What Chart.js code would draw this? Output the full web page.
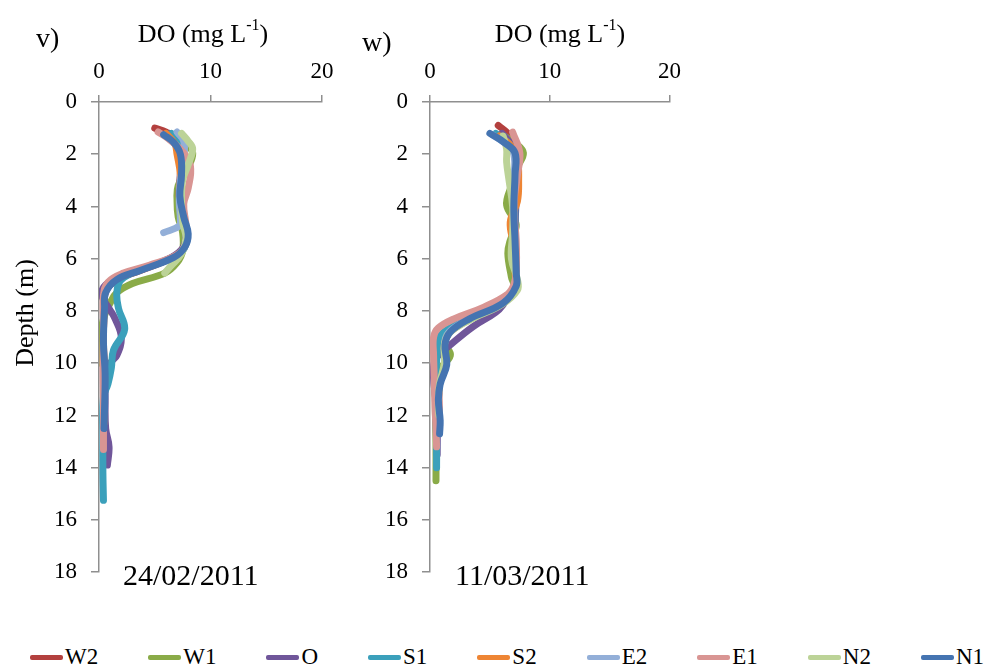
<!DOCTYPE html>
<html>
<head>
<meta charset="utf-8">
<script src="https://cdn.jsdelivr.net/npm/chart.js@4"></script>
<style>
  body { margin: 0; background: #fff; width: 1006px; height: 672px; position: relative; overflow: hidden; }
  canvas { position: absolute; top: 0; }
  #legend { position: absolute; left: 30px; top: 644px; display: flex; align-items: center; gap: 50px;
            font-family: 'Liberation Serif', 'Times New Roman', serif; font-size: 23px; color: #000; }
  #legend .item { display: flex; align-items: center; }
  #legend .swatch { display: inline-block; width: 33px; height: 5px; border-radius: 2px; margin-right: 2px; }
</style>
</head>
<body>
<canvas id="chartFeb" width="345" height="600" style="left:0"></canvas>
<canvas id="chartMar" width="345" height="600" style="left:345px"></canvas>
<div id="legend"></div>
<script>
const SERIF = "'Liberation Serif', 'Times New Roman', serif"

const stations = ['W2', 'W1', 'O', 'S1', 'S2', 'E2', 'E1', 'N2', 'N1']
const colors = ['#b3403e', '#8aab48', '#70569a', '#3ba0bb', '#ee8534', '#93afd8', '#d99593', '#bcd397', '#4574b1']
const doTicks = [0, 10, 20]
const depthTicks = [0, 2, 4, 6, 8, 10, 12, 14, 16, 18]

// profiles as [DO mg/L, depth m], 24/02/2011
const feb_W2 = [[5.0,1.0],[6.0,1.15],[6.9,1.5],[7.3,2.0],[7.3,2.8],[7.2,3.6],[7.5,4.4],[7.9,5.05],[7.6,5.6],[6.6,5.95],[3.7,6.45],[1.6,6.8],[0.6,7.25],[0.45,8.0],[0.4,9.3],[0.5,10.5],[0.45,11.8],[0.45,12.4]]
const feb_W1 = [[6.8,1.3],[7.8,1.6],[8.4,1.95],[8.0,2.5],[7.1,3.2],[7.0,3.8],[7.1,4.4],[7.5,5.0],[7.5,5.7],[7.0,6.15],[5.9,6.55],[3.0,6.95],[1.6,7.3],[1.0,7.7],[0.4,8.3],[0.1,9.2],[0.2,10.0]]
const feb_O = [[6.3,1.2],[7.0,1.5],[7.3,2.0],[7.3,2.8],[7.2,3.6],[7.5,4.4],[7.8,5.1],[7.5,5.6],[6.5,5.95],[4.2,6.35],[2.0,6.7],[0.6,7.0],[0.25,7.4],[0.9,7.9],[1.45,8.3],[2.0,9.0],[1.6,9.7],[1.0,10.0],[0.6,10.6],[0.55,11.5],[0.6,12.5],[0.9,13.2],[0.75,13.9]]
const feb_S1 = [[6.5,1.2],[7.2,1.6],[7.4,2.2],[7.3,3.0],[7.3,3.8],[7.7,4.6],[7.9,5.2],[7.5,5.7],[6.4,6.0],[3.8,6.4],[2.0,6.8],[1.6,7.3],[1.75,7.9],[2.3,8.7],[1.3,9.5],[1.1,10.2],[0.8,10.8],[0.4,11.3],[0.35,12.9],[0.35,14.2],[0.4,15.25]]
const feb_S2 = [[6.0,1.2],[6.8,1.6],[7.0,2.0],[7.3,2.8],[7.2,3.6],[7.5,4.4],[7.9,5.0],[7.6,5.6],[6.6,5.95],[3.6,6.45],[1.5,6.8],[0.55,7.3],[0.45,8.0],[0.4,9.2],[0.5,10.5],[0.45,11.8],[0.45,12.3]]
const feb_E2 = [[7.0,1.15],[7.6,1.5],[7.6,2.2],[7.3,3.0],[7.2,3.8],[7.3,4.5],[7.2,4.75],[5.8,5.0]]
const feb_E1 = [[5.3,1.15],[6.2,1.4],[7.5,1.9],[8.2,2.45],[8.0,3.3],[7.6,3.9],[7.8,4.7],[7.8,5.4],[7.0,5.85],[4.5,6.25],[2.2,6.55],[0.8,6.9],[0.4,7.4],[0.4,8.5],[0.35,10.0],[0.4,11.5],[0.4,12.5],[0.4,13.3]]
const feb_N2 = [[7.4,1.2],[8.0,1.5],[8.4,1.8],[8.0,2.4],[7.5,3.0],[7.4,3.8],[7.5,4.6],[7.8,5.2],[7.4,5.8],[6.4,6.3],[5.9,6.55]]
const feb_N1 = [[5.8,1.25],[6.7,1.55],[7.3,2.0],[7.4,2.8],[7.25,3.6],[7.6,4.4],[8.0,5.05],[7.7,5.55],[6.7,5.95],[3.7,6.45],[1.6,6.8],[0.6,7.3],[0.5,7.9],[0.4,9.2],[0.55,10.4],[0.5,11.7],[0.45,12.5]]

// profiles as [DO mg/L, depth m], 11/03/2011
const mar_W2 = [[5.7,0.9],[6.5,1.2],[7.0,1.6],[7.2,2.2],[7.1,3.5],[7.1,5.0],[7.2,6.5],[7.1,7.1],[6.0,7.7],[3.3,8.3],[1.6,8.8],[1.2,9.3],[1.3,10.0],[0.8,10.8],[0.75,11.6],[0.8,12.4]]
const mar_W1 = [[6.2,1.3],[7.2,1.6],[7.8,1.95],[7.3,2.5],[6.8,3.2],[6.4,3.95],[7.2,4.7],[6.7,5.3],[6.5,5.8],[6.8,6.7],[7.0,7.1],[5.9,7.7],[3.2,8.3],[1.5,8.8],[1.2,9.2],[1.7,9.7],[0.55,10.4],[0.45,11.5],[0.5,13.0],[0.5,14.5]]
const mar_O = [[6.0,1.2],[6.9,1.7],[7.2,2.2],[7.2,3.5],[7.1,5.0],[7.2,6.5],[7.1,7.1],[6.2,7.7],[5.5,8.05],[3.6,8.6],[1.7,9.3],[0.5,9.8],[0.3,10.1],[0.3,10.6],[0.5,11.5],[0.6,12.5],[0.6,13.5]]
const mar_S1 = [[5.5,1.2],[6.8,1.7],[7.2,2.2],[7.1,3.5],[7.1,5.0],[7.2,6.5],[7.1,7.1],[6.0,7.6],[3.5,8.2],[1.5,8.7],[0.8,9.0],[0.6,9.6],[0.5,10.5],[0.5,12.0],[0.55,13.0],[0.55,14.0]]
const mar_S2 = [[5.8,1.3],[6.8,1.7],[7.3,2.2],[7.4,3.0],[7.3,3.8],[6.7,4.6],[7.0,5.5],[7.1,6.5],[7.1,7.1],[6.0,7.7],[3.4,8.3],[1.7,8.8],[1.2,9.3],[1.3,10.0],[0.8,10.8],[0.7,11.5],[0.75,12.3]]
const mar_E2 = [[5.2,1.25],[6.3,1.6],[7.0,2.0],[7.0,3.0],[7.0,4.1],[7.1,5.3],[7.2,6.5],[7.1,7.1],[6.0,7.7],[3.3,8.3],[1.6,8.8],[1.2,9.3],[1.3,10.0],[0.8,10.8],[0.7,11.5],[0.8,12.2]]
const mar_E1 = [[6.9,1.15],[7.5,1.95],[7.3,2.8],[7.0,4.0],[7.2,5.3],[7.2,6.5],[7.0,7.0],[6.5,7.35],[4.5,7.85],[2.0,8.3],[0.7,8.65],[0.3,9.0],[0.3,9.7],[0.35,10.5],[0.42,11.7],[0.5,12.5],[0.55,13.2]]
const mar_N2 = [[6.1,1.3],[6.4,1.8],[6.4,2.3],[6.6,3.0],[6.9,4.0],[6.9,5.0],[6.8,6.0],[7.3,6.8],[7.3,7.2],[6.0,7.75],[3.3,8.35],[1.6,8.85],[1.2,9.3],[1.2,10.0],[0.8,10.8],[0.7,11.5],[0.75,12.0]]
const mar_N1 = [[5.0,1.2],[6.2,1.55],[7.1,1.95],[7.1,2.8],[7.0,4.05],[7.1,5.3],[7.2,6.55],[7.2,7.05],[6.1,7.7],[3.3,8.3],[1.7,8.8],[1.25,9.3],[1.4,10.05],[0.85,10.8],[0.7,11.4],[0.85,12.2],[0.8,12.7]]

const febProfiles = [feb_W2, feb_W1, feb_O, feb_S1, feb_S2, feb_E2, feb_E1, feb_N2, feb_N1]
const marProfiles = [mar_W2, mar_W1, mar_O, mar_S1, mar_S2, mar_E2, mar_E1, mar_N2, mar_N1]

// panel letter, axis titles and the sampling date
const panelText = {
  id: 'panelText',
  afterDraw(chart, args, opts) {
    const ctx = chart.ctx
    ctx.save()
    ctx.fillStyle = '#000'
    ctx.textBaseline = 'alphabetic'
    ctx.textAlign = 'left'

    ctx.font = `28px ${SERIF}`
    ctx.fillText(opts.tag, opts.tagX, opts.tagY)

    ctx.font = `26px ${SERIF}`
    const wMain = ctx.measureText('DO (mg L').width
    const wClose = ctx.measureText(')').width
    ctx.font = `16px ${SERIF}`
    const wSup = ctx.measureText('-1').width
    let x = opts.titleX - (wMain + wSup + wClose) / 2
    ctx.font = `26px ${SERIF}`
    ctx.fillText('DO (mg L', x, 42)
    x += wMain
    ctx.font = `16px ${SERIF}`
    ctx.fillText('-1', x, 30)
    x += wSup
    ctx.font = `26px ${SERIF}`
    ctx.fillText(')', x, 42)

    if (opts.depthTitle) {
      ctx.save()
      ctx.translate(33, 313)
      ctx.rotate(-Math.PI / 2)
      ctx.textAlign = 'center'
      ctx.font = `26px ${SERIF}`
      ctx.fillText('Depth (m)', 0, 0)
      ctx.restore()
    }

    ctx.font = `30px ${SERIF}`
    ctx.fillText(opts.date, opts.dateX, 585)
    ctx.restore()
  }
}

function makeDatasets(profiles) {
  return profiles.map((rows, i) => ({
    label: stations[i],
    data: rows.map(r => ({x: r[0], y: r[1]})),
    order: stations.length - i,   // later stations drawn on top
    showLine: true,
    borderColor: colors[i],
    backgroundColor: colors[i],
    borderWidth: 7,
    borderCapStyle: 'round',
    borderJoinStyle: 'round',
    pointRadius: 0,
    tension: 0.4
  }))
}

function initChart(id, profiles, leftWidth, plotWidth, text) {
  const axisColor = '#8f8f8f'
  return new Chart(document.getElementById(id), {
    type: 'scatter',
    data: { datasets: makeDatasets(profiles) },
    plugins: [panelText],
    options: {
      responsive: false,
      animation: false,
      devicePixelRatio: 1,
      layout: { padding: { left: 0, right: 345 - leftWidth - plotWidth, top: 0, bottom: 17 } },
      plugins: { legend: { display: false }, tooltip: { enabled: false }, panelText: text },
      scales: {
        x: {
          type: 'linear', position: 'top', min: 0, max: 20,
          afterBuildTicks: s => { s.ticks = doTicks.map(v => ({value: v})) },
          afterFit: s => { s.height = 102 },
          ticks: { color: '#000', padding: 9, font: { family: SERIF, size: 23 } },
          grid: { drawOnChartArea: false, drawTicks: true, tickLength: 7, color: axisColor, lineWidth: 1.5 },
          border: { color: axisColor, width: 1.5 }
        },
        y: {
          type: 'linear', reverse: true, min: 0, max: 18,
          afterBuildTicks: s => { s.ticks = depthTicks.map(v => ({value: v})) },
          afterFit: s => { s.width = leftWidth },
          ticks: { color: '#000', padding: 14, font: { family: SERIF, size: 23 } },
          grid: { drawOnChartArea: false, drawTicks: true, tickLength: 8, color: axisColor, lineWidth: 1.5 },
          border: { color: axisColor, width: 1.5 }
        }
      }
    }
  })
}

initChart('chartFeb', febProfiles, 99, 223,
  { tag: 'v)', tagX: 36, tagY: 47, titleX: 203, date: '24/02/2011', dateX: 123, depthTitle: true })
initChart('chartMar', marProfiles, 85, 240,
  { tag: 'w)', tagX: 17, tagY: 51, titleX: 215, date: '11/03/2011', dateX: 110, depthTitle: false })

// legend row built from the same station names and colours
const legend = document.getElementById('legend')
stations.forEach((name, i) => {
  const item = document.createElement('span')
  item.className = 'item'
  const sw = document.createElement('span')
  sw.className = 'swatch'
  sw.style.background = colors[i]
  item.appendChild(sw)
  item.appendChild(document.createTextNode(name))
  legend.appendChild(item)
})
</script>
</body>
</html>
